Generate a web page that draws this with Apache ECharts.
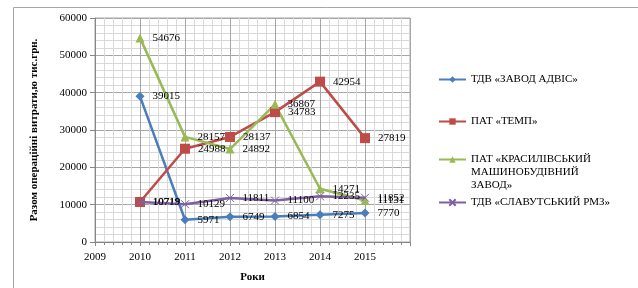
<!DOCTYPE html>
<html>
<head>
<meta charset="utf-8">
<script src="https://cdn.jsdelivr.net/npm/echarts@6/dist/echarts.min.js"></script>
<style>
  html, body { margin: 0; padding: 0; background: #fff; }
  #chart { width: 638px; height: 288px; }
</style>
</head>
<body>
<div id="chart"></div>
<script>
  // дані з графіка
  const years = [2010, 2011, 2012, 2013, 2014, 2015];
  const advis = [39015, 5971, 6749, 6854, 7275, 7770];
  const temp = [10718, 24988, 28137, 34783, 42954, 27819];
  const krasyliv = [54676, 28157, 24892, 36867, 14271, 11131];
  const slavuta = [10719, 10129, 11811, 11100, 12235, 11852];
  const names = ['ТДВ «ЗАВОД АДВІС»', 'ПАТ «ТЕМП»', 'ПАТ «КРАСИЛІВСЬКИЙ МАШИНОБУДІВНИЙ ЗАВОД»', 'ТДВ «СЛАВУТСЬКИЙ РМЗ»'];
  const colors = ['#4a7ebb', '#be4b48', '#98b954', '#7d60a0'];
  const symbols = ['diamond', 'rect', 'triangle', 'path://M0,0L10,10M10,0L0,10'];

  const font = "'Liberation Serif', 'DejaVu Serif', serif";
  const chart = echarts.init(document.getElementById('chart'));

  function pairs(arr) {
    return years.map((y, i) => [y, arr[i]]);
  }

  // довга назва: три рядки, значок навпроти першого (порожні рядки зверху)
  function legendName(name) {
    if (name.indexOf('МАШИНОБУДІВНИЙ') < 0) return name;
    return '{e| }\n{e| }\n{t|ПАТ «КРАСИЛІВСЬКИЙ}\n{t|МАШИНОБУДІВНИЙ}\n{t|ЗАВОД»}';
  }

  const seriesData = [advis, temp, krasyliv, slavuta];
  const legendTops = [68, 110, 122, 191];

  const option = {
    animation: false,
    textStyle: { fontFamily: font },
    graphic: [{
      type: 'rect',
      shape: { x: 13.5, y: 7.5, width: 700, height: 400 },
      style: { fill: 'none', stroke: '#a6a6a6', lineWidth: 1 },
      silent: true
    }],
    grid: { left: 95, top: 18, right: 228, bottom: 45, show: true, borderColor: '#a6a6a6', borderWidth: 1 },
    legend: seriesData.map((d, i) => ({
      data: [names[i]],
      left: 433,
      top: legendTops[i],
      itemWidth: 27,
      itemHeight: 8,
      formatter: legendName,
      textStyle: {
        fontFamily: font, fontSize: 11, color: '#000', lineHeight: 13,
        rich: {
          e: { fontSize: 11, lineHeight: 13 },
          t: { fontFamily: font, fontSize: 11, color: '#000', lineHeight: 13 }
        }
      }
    })),
    xAxis: {
      type: 'value',
      min: 2009,
      max: 2016,
      interval: 1,
      name: 'Роки',
      nameLocation: 'middle',
      nameGap: 30,
      nameTextStyle: { fontFamily: font, fontWeight: 'bold', fontSize: 11, color: '#000' },
      axisLine: { lineStyle: { color: '#868686' } },
      axisTick: { show: true, length: 4, lineStyle: { color: '#868686' } },
      minorTick: { show: true, splitNumber: 5, length: 3, lineStyle: { color: '#868686' } },
      axisLabel: {
        fontFamily: font, fontSize: 11, color: '#000', margin: 10,
        formatter: v => (v === 2016 ? '' : String(v))
      },
      splitLine: { show: true, lineStyle: { color: '#a6a6a6' } },
      minorSplitLine: { show: true, lineStyle: { color: '#d9d9d9' } }
    },
    yAxis: {
      type: 'value',
      min: 0,
      max: 60000,
      interval: 10000,
      name: 'Разом операційні витрати,ю тис.грн.',
      nameLocation: 'middle',
      nameGap: 55,
      nameTextStyle: { fontFamily: font, fontWeight: 'bold', fontSize: 11, color: '#000' },
      axisLine: { show: true, lineStyle: { color: '#868686' } },
      axisTick: { show: true, length: 5, lineStyle: { color: '#868686' } },
      minorTick: { show: false },
      axisLabel: { fontFamily: font, fontSize: 11, color: '#000', margin: 8, formatter: v => String(v) },
      splitLine: { show: true, lineStyle: { color: '#a6a6a6' } },
      minorSplitLine: { show: true, lineStyle: { color: '#d9d9d9' } }
    },
    series: seriesData.map((d, i) => ({
      name: names[i],
      type: 'line',
      data: pairs(d),
      color: colors[i],
      symbol: symbols[i],
      symbolSize: i === 1 ? 10 : (i === 3 ? 8 : 9),
      lineStyle: { width: 2.5, color: colors[i] },
      itemStyle: { color: colors[i], borderColor: colors[i], borderWidth: i === 3 ? 1 : 0 },
      label: {
        show: true,
        position: 'right',
        distance: 8,
        fontFamily: font,
        fontSize: 11,
        color: '#000',
        formatter: p => String(p.value[1])
      },
      z: i === 3 ? 5 : 2
    }))
  };

  chart.setOption(option);
</script>
</body>
</html>
